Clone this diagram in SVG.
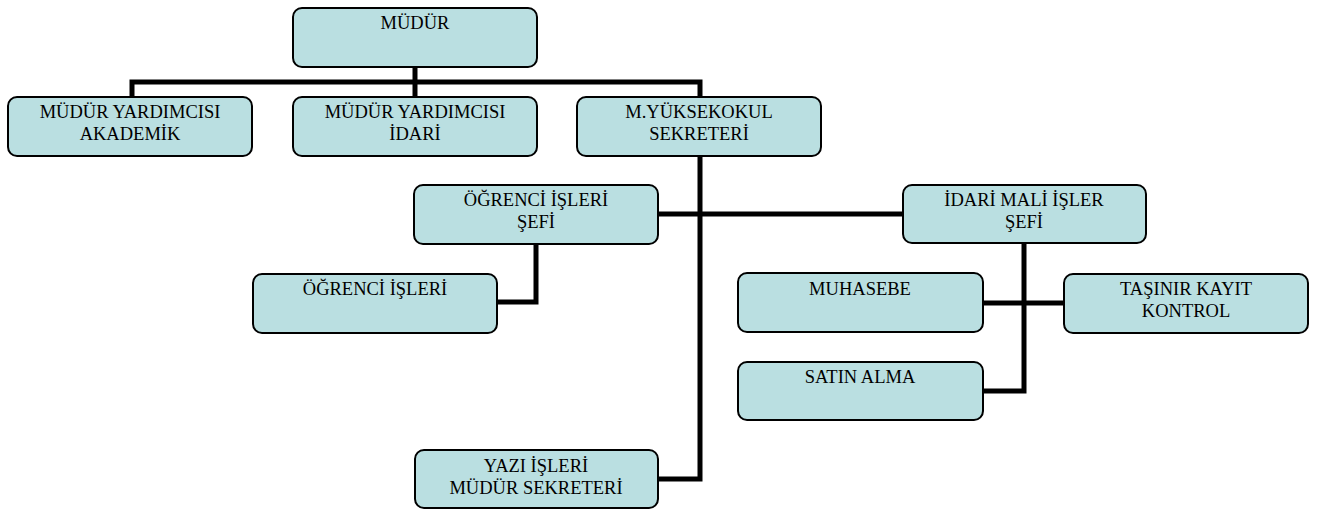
<svg xmlns="http://www.w3.org/2000/svg" width="1319" height="510" viewBox="0 0 1319 510">
<style>
.box{fill:#badfe1;stroke:#000;stroke-width:2}
.lbl{font-family:'Liberation Serif','Times New Roman','DejaVu Serif',serif;font-size:18.5px;fill:#000;text-anchor:middle}
.con{fill:none;stroke:#000;stroke-width:5;stroke-linejoin:miter;stroke-linecap:butt}
</style>
<rect width="1319" height="510" fill="#fff"/>
<g id="connectors">
<path class="con" d="M415,67 V82"/>
<path class="con" d="M132,97 V82 H700 V97"/>
<path class="con" d="M415,82 V97"/>
<path class="con" d="M700,156 V479 H658"/>
<path class="con" d="M658,214 H903"/>
<path class="con" d="M536,244 V302 H497"/>
<path class="con" d="M1024,243 V391 H983"/>
<path class="con" d="M983,303 H1064"/>
</g>
<g font-family="Liberation Serif, Times New Roman, serif">
<g id="mudur"><rect class="box" x="293" y="8" width="244" height="59" rx="9"/><text class="lbl" x="415" y="29">MÜDÜR</text></g>
<g id="myrd-akademik"><rect class="box" x="8" y="97" width="244" height="59" rx="9"/><text class="lbl" x="130" y="118">MÜDÜR YARDIMCISI</text><text class="lbl" x="130" y="140">AKADEMİK</text></g>
<g id="myrd-idari"><rect class="box" x="293" y="97" width="244" height="59" rx="9"/><text class="lbl" x="415" y="118">MÜDÜR YARDIMCISI</text><text class="lbl" x="415" y="140">İDARİ</text></g>
<g id="sekreter"><rect class="box" x="577" y="97" width="244" height="59" rx="9"/><text class="lbl" x="699" y="118">M.YÜKSEKOKUL</text><text class="lbl" x="699" y="140">SEKRETERİ</text></g>
<g id="ogrenci-sefi"><rect class="box" x="414" y="185" width="244" height="59" rx="9"/><text class="lbl" x="536" y="206">ÖĞRENCİ İŞLERİ</text><text class="lbl" x="536" y="228">ŞEFİ</text></g>
<g id="idari-mali-sefi"><rect class="box" x="903" y="185" width="243" height="58" rx="9"/><text class="lbl" x="1024" y="206">İDARİ MALİ İŞLER</text><text class="lbl" x="1024" y="228">ŞEFİ</text></g>
<g id="ogrenci-isleri"><rect class="box" x="253" y="274" width="244" height="59" rx="9"/><text class="lbl" x="375" y="295">ÖĞRENCİ İŞLERİ</text></g>
<g id="muhasebe"><rect class="box" x="738" y="273" width="245" height="59" rx="9"/><text class="lbl" x="860" y="295">MUHASEBE</text></g>
<g id="tasinir"><rect class="box" x="1064" y="274" width="244" height="59" rx="9"/><text class="lbl" x="1186" y="295">TAŞINIR KAYIT</text><text class="lbl" x="1186" y="317">KONTROL</text></g>
<g id="satin-alma"><rect class="box" x="738" y="362" width="245" height="58" rx="9"/><text class="lbl" x="860" y="383">SATIN ALMA</text></g>
<g id="yazi-isleri"><rect class="box" x="415" y="450" width="243" height="58" rx="9"/><text class="lbl" x="536" y="472">YAZI İŞLERİ</text><text class="lbl" x="536" y="494">MÜDÜR SEKRETERİ</text></g>
</g>
</svg>
